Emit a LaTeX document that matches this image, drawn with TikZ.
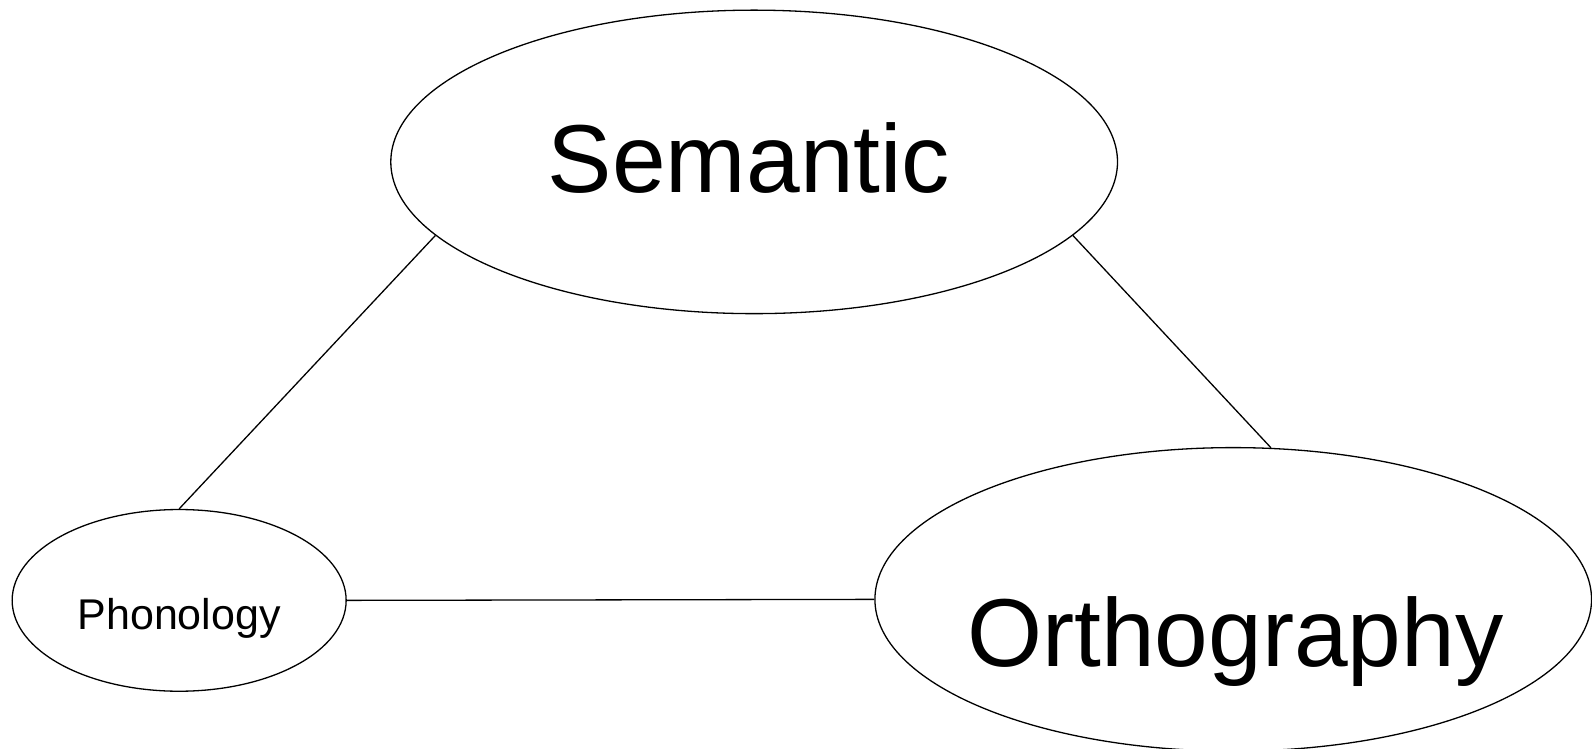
\documentclass[tikz,border=0pt]{standalone}
\usepackage{fontspec}
\setmainfont{Liberation Sans}
\usetikzlibrary{shapes.geometric}
\begin{document}
\begin{tikzpicture}[x=1.015pt,y=-1.015pt,
  oval/.style={draw=black,line width=1.3pt,ellipse,inner sep=0pt},
  link/.style={draw=black,line width=1.3pt},
  bigtxt/.style={anchor=base,inner sep=0pt,font=\fontsize{96.5}{100}\selectfont},
  smalltxt/.style={anchor=base,inner sep=0pt,font=\fontsize{43}{46}\selectfont}]
\useasboundingbox (0pt,0pt) rectangle (1592pt,-749pt);
\node[oval,minimum width=726.7pt,minimum height=303.5pt] (sem) at (743,159.5) {};
\node[oval,minimum width=334pt,minimum height=181.7pt] (phon) at (176.5,591.5) {};
\node[oval,minimum width=716.6pt,minimum height=303.5pt] (orth) at (1215,590.5) {};
\node[bigtxt] (semt) at (738,190) {Semantic};
\node[bigtxt] (ortht) at (1217,657) {Orthography};
\node[smalltxt] (phont) at (176.5,620) {Phonology};
\draw[link] (phon.north) -- (sem.193.2);
\draw[link] (sem.347.3) -- (orth.76.7);
\draw[link] (phon.east) -- (orth.west);
\end{tikzpicture}
\end{document}
